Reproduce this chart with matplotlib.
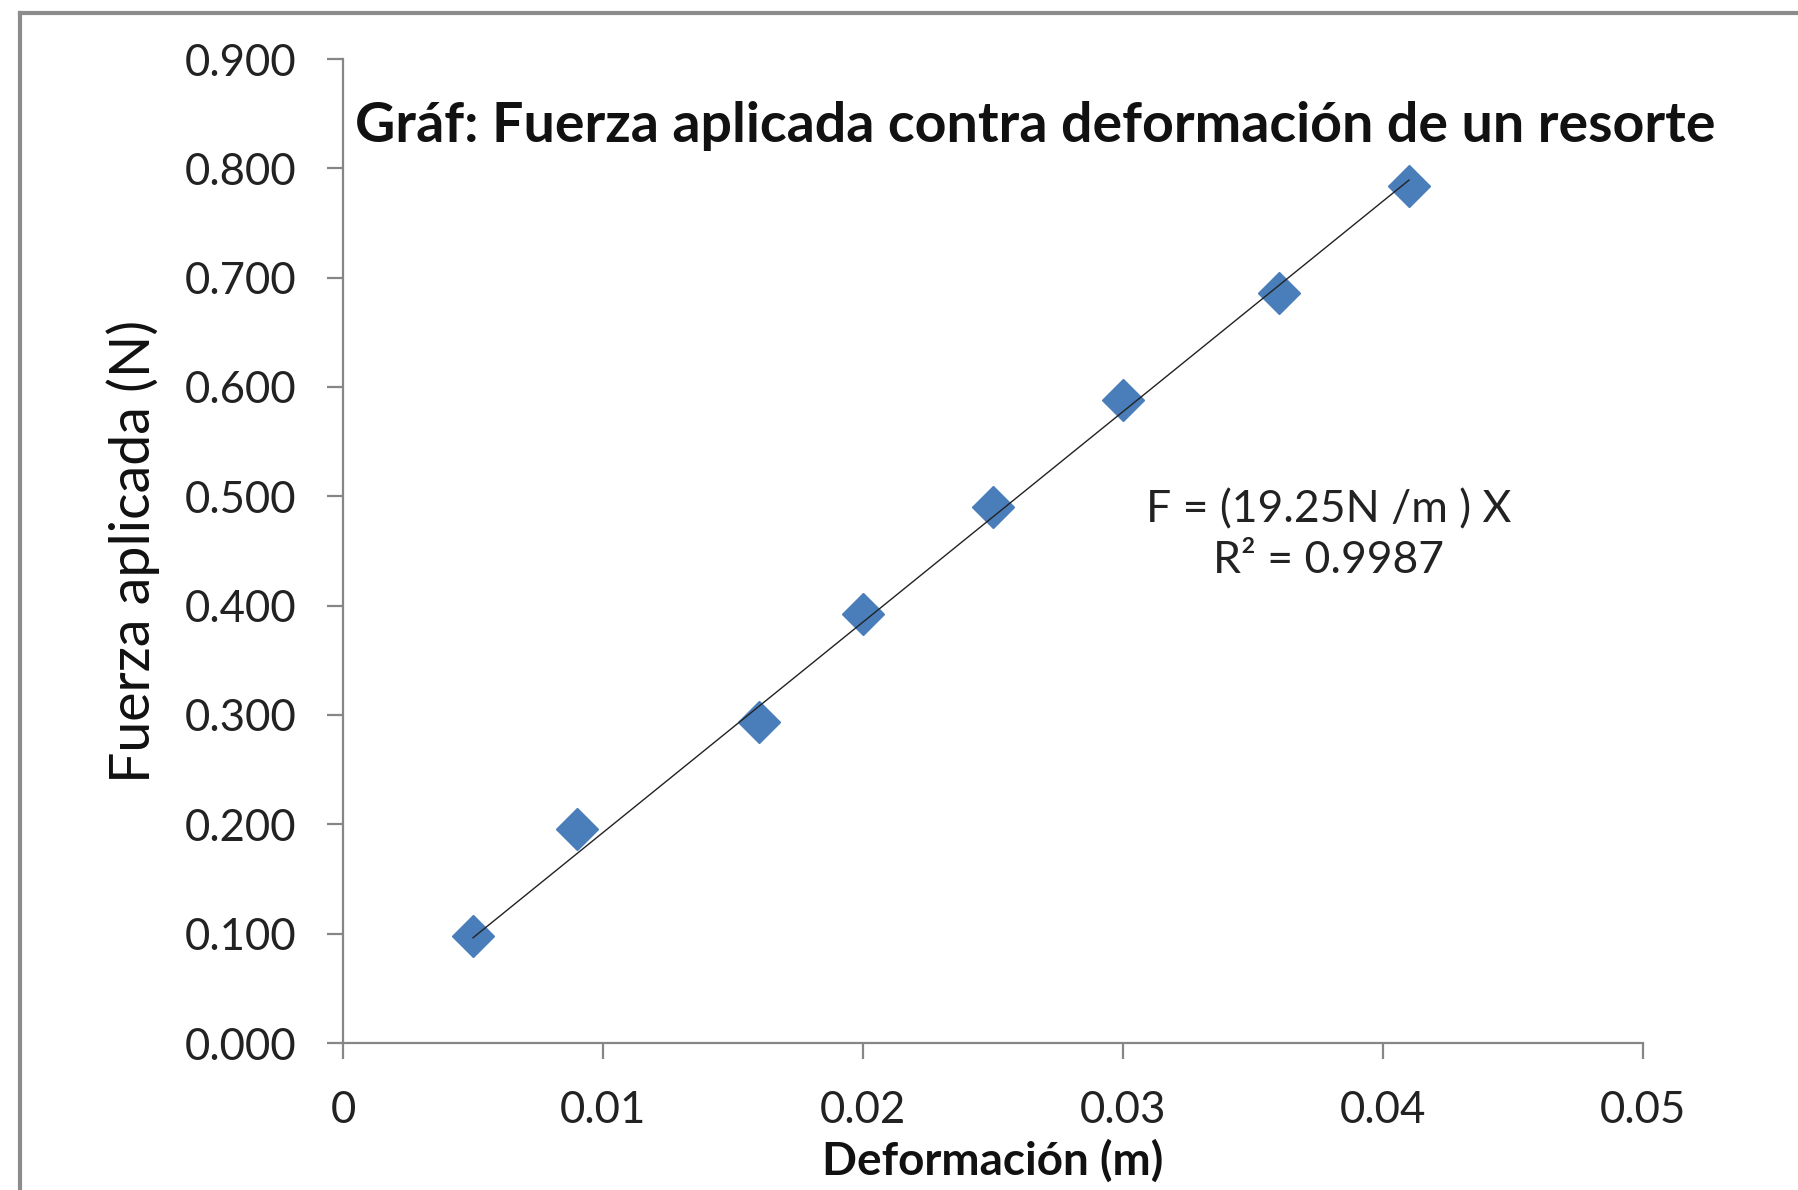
import numpy as np
import matplotlib
matplotlib.use("Agg")
import matplotlib.pyplot as plt
from matplotlib.lines import Line2D

# Data (deformation in m, applied force in N)
deformacion = [0.005, 0.009, 0.016, 0.020, 0.025, 0.030, 0.036, 0.041]
fuerza = [0.098, 0.196, 0.294, 0.392, 0.490, 0.588, 0.686, 0.784]
pendiente = 19.25  # N/m, from the trendline label
r2 = 0.9987

x_ticks = [0, 0.01, 0.02, 0.03, 0.04, 0.05]
x_tick_labels = ["0", "0.01", "0.02", "0.03", "0.04", "0.05"]
y_ticks = np.arange(0, 0.9001, 0.1)

plt.rcParams['font.family'] = ['Lato', 'DejaVu Sans']

fig = plt.figure(figsize=(17.99, 11.90), dpi=100)
ax = fig.add_axes([343 / 1799, 1 - 1043 / 1190, 1300 / 1799, 984 / 1190])

# outer frame (only top and left edges visible)
frame_col = '#8c8c8c'
fig.add_artist(Line2D([20 / 1799, 1], [1 - 13 / 1190] * 2, transform=fig.transFigure,
                      color=frame_col, lw=3))
fig.add_artist(Line2D([20 / 1799] * 2, [0, 1 - 13 / 1190], transform=fig.transFigure,
                      color=frame_col, lw=3))

# trendline across the data range
xs = np.array([deformacion[0], deformacion[-1]])
ax.plot(xs, pendiente * xs, color='#222222', lw=1.0, zorder=3)

ax.plot(deformacion, fuerza, linestyle='none', marker='D', markersize=21,
        color='#4a7ebb', markeredgecolor='#4a7ebb', zorder=2)

ax.set_xlim(0, 0.05)
ax.set_ylim(0, 0.9)
ax.set_xticks(x_ticks)
ax.set_xticklabels(x_tick_labels)
ax.set_yticks(y_ticks)
ax.set_yticklabels(["%.3f" % v for v in y_ticks])

for s in ['top', 'right']:
    ax.spines[s].set_visible(False)
for s in ['left', 'bottom']:
    ax.spines[s].set_color('#868686')
    ax.spines[s].set_linewidth(1.6)
ax.tick_params(axis='both', direction='out', length=11.5, width=1.6, color='#868686',
               labelsize=31.5, labelcolor='#222222')
ax.tick_params(axis='y', pad=22)
ax.tick_params(axis='x', pad=22)

ax.set_ylabel("Fuerza aplicada (N)", fontsize=40, color='#111111')
ax.yaxis.set_label_coords(-0.141, 0.5)
ax.set_xlabel("Deformación (m)", fontsize=33, fontweight='bold', color='#111111')
ax.xaxis.set_label_coords(0.50, -0.098)

fig.text(1035 / 1799, 1 - 126 / 1190,
         "Gráf: Fuerza aplicada contra deformación de un resorte",
         ha='center', va='center', fontsize=40, fontweight='bold', color='#111111')

ax.text(0.0379, 0.4646, "F = (19.25N /m ) X\nR² = %.4f" % r2, ha='center', va='center',
        fontsize=32, color='#222222', linespacing=1.3)

fig.savefig("out.png", dpi=100, facecolor='white')
